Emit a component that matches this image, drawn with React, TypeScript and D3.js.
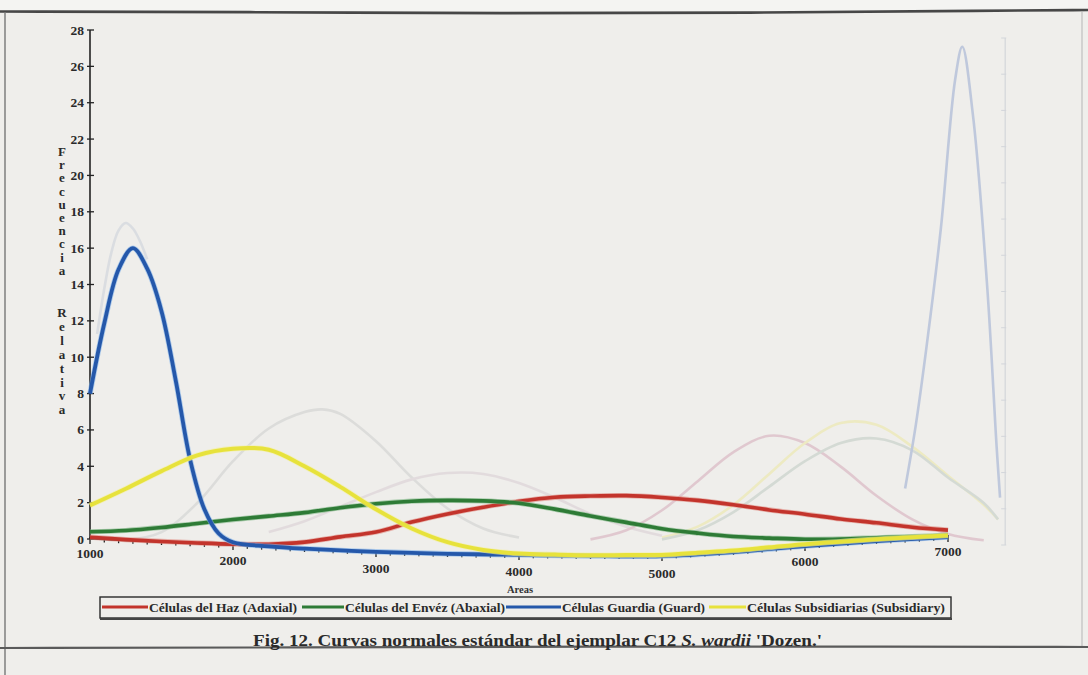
import React from "react";
import * as d3 from "d3";

// ---------- DATA ----------
const areas = [1000, 1250, 1500, 1750, 2000, 2250, 2500, 2750, 3000, 3250, 3500, 3750, 4000, 4250, 4500, 4750, 5000, 5250, 5500, 5750, 6000, 6250, 6500, 6750, 7000];
const haz = [0.1, 0.05, 0.03, 0.03, 0.05, 0.15, 0.38, 0.75, 1.1, 1.7, 2.2, 2.6, 2.95, 3.2, 3.3, 3.32, 3.22, 2.95, 2.6, 2.15, 1.75, 1.35, 1.0, 0.65, 0.38];
const enves = [0.4, 0.55, 0.8, 1.1, 1.4, 1.7, 2.0, 2.35, 2.65, 2.85, 2.95, 2.95, 2.85, 2.55, 2.2, 1.85, 1.5, 1.15, 0.85, 0.6, 0.37, 0.25, 0.18, 0.13, 0.11];
const subsid = [1.85, 2.85, 3.9, 4.85, 5.3, 5.35, 4.55, 3.5, 2.35, 1.35, 0.65, 0.25, 0.08, 0.05, 0.04, 0.05, 0.06, 0.07, 0.08, 0.09, 0.1, 0.1, 0.1, 0.1, 0.08];
const guardAreas = [1000, 1100, 1200, 1300, 1400, 1500, 1600, 1700, 1800, 1900, 2000, 2250, 2500, 3000, 3500, 4000, 4500, 5000, 5500, 6000, 6500, 7000];
const guardia = [8.0, 11.9, 14.9, 16.1, 15.0, 12.7, 8.9, 4.6, 1.9, 0.6, 0.15, 0.04, 0.02, 0.01, 0.01, 0.01, 0, 0, 0, 0, 0, 0];

const seriesNames = ["Células del Haz (Adaxial)", "Células del Envéz (Abaxial)", "Células Guardia (Guard)", "Células Subsidiarias (Subsidiary)"];
const seriesColors = ["#c3342c", "#2e7b36", "#2558aa", "#e7e23c"];

const yTickLabels = [0, 2, 4, 6, 8, 10, 12, 14, 16, 18, 20, 22, 24, 26, 28];
const xTickLabels = [1000, 2000, 3000, 4000, 5000, 6000, 7000];
const xTitle = "Areas";
const yTitleWords = ["Frecuencia", "Relativa"];
const captionStart = "Fig. 12. Curvas normales estándar del ejemplar C12 ";
const captionItalic = "S. wardii";
const captionEnd = "  'Dozen.'";

// faint show-through curves from the reverse side of the scanned page
const ghostGuardLAreas = [1050, 1100, 1150, 1200, 1250, 1300, 1350, 1400];
const ghostGuardL = [11.5, 14.0, 16.0, 17.2, 17.6, 17.3, 16.6, 15.6];
const ghostGreyAreas = [1250, 1500, 1750, 2000, 2250, 2500, 2625, 2750, 3000, 3250, 3500, 3750, 4000];
const ghostGrey = [0.15, 0.6, 2.2, 4.5, 6.3, 7.2, 7.35, 7.1, 5.6, 3.6, 1.9, 0.8, 0.3];
const ghostBroadAreas = [2250, 2500, 2750, 3000, 3250, 3500, 3750, 4000, 4250, 4500, 4750, 5000];
const ghostBroad = [0.6, 1.2, 2.0, 2.8, 3.5, 3.85, 3.8, 3.3, 2.5, 1.6, 0.9, 0.4];
const ghostPinkAreas = [4500, 4750, 5000, 5250, 5500, 5750, 6000, 6250, 6500, 6750, 7000, 7250];
const ghostPink = [0.2, 0.7, 1.8, 3.4, 5.0, 5.9, 5.5, 4.2, 2.6, 1.3, 0.5, 0.15];
const ghostRightAreas = [5000, 5250, 5500, 5750, 6000, 6250, 6500, 6750, 7000, 7250, 7350];
const ghostYellow = [0.3, 0.9, 2.1, 3.8, 5.5, 6.6, 6.5, 5.3, 3.7, 2.1, 1.3];
const ghostGreen = [0.2, 0.7, 1.7, 3.1, 4.5, 5.5, 5.75, 5.1, 3.6, 2.2, 1.3];
const ghostBlueAreas = [6700, 6775, 6850, 6950, 7050, 7100, 7175, 7275, 7340, 7364];
const ghostBlue = [3, 6.5, 10.8, 17.3, 25.5, 27.3, 23.5, 14, 5.3, 2.5];

// page bend of the scan (vertical displacement, px) along the x axis
const bendAreas = [1000, 1500, 2000, 2500, 3000, 3500, 4000, 4500, 5000, 5500, 6000, 6500, 7000];
const bendPx = [0, 3, 6, 10, 13, 15, 16, 17, 17, 13, 7, 2, -2];

// ---------- LAYOUT ----------
const W = 1088;
const H = 675;
const x = d3.scaleLinear().domain([1000, 7000]).range([90, 948]);
const y = d3.scaleLinear().domain([0, 28]).range([539, 30]);
const bend = d3.scaleLinear().domain(bendAreas).range(bendPx).clamp(true);
const serif = "'Liberation Serif', 'DejaVu Serif', serif";

const line = d3.line<[number, number]>().curve(d3.curveCatmullRom.alpha(0.5));
const axisLine = d3.line<[number, number]>().curve(d3.curveBasis);
const smooth = d3.line<[number, number]>().curve(d3.curveBasis);

function bentPath(as: number[], vs: number[]) {
  return line(as.map((a, i) => [x(a), y(vs[i]) + bend(a)] as [number, number])) || "";
}
function flatPath(as: number[], vs: number[]) {
  return line(as.map((a, i) => [x(a), y(vs[i]) + 4] as [number, number])) || "";
}

export default function App() {
  const axisAreas = d3.range(1000, 7001, 100);
  const axisPath = axisLine(axisAreas.map((a) => [x(a), y(0) + bend(a)] as [number, number])) || "";
  const ghostAxisX = x(7400);
  const gy = d3.scaleLinear().domain([0, 28]).range([545, 38]);

  const legendItems = [
    { x0: 102, x1: 148, tw: 148 },
    { x0: 302, x1: 344, tw: 160 },
    { x0: 506, x1: 561, tw: 143 },
    { x0: 709, x1: 746, tw: 198 },
  ];

  const main = [
    { as: areas, vs: haz, c: seriesColors[0], w: 3.6, halo: "#e08a80" },
    { as: areas, vs: enves, c: seriesColors[1], w: 3.6, halo: "#7fb786" },
    { as: guardAreas, vs: guardia, c: seriesColors[2], w: 3.8, halo: "#7fb0ea" },
    { as: areas, vs: subsid, c: seriesColors[3], w: 4, halo: "#f4f0a0" },
  ];

  const ghosts = [
    { as: ghostGuardLAreas, vs: ghostGuardL, c: "#d2d6dd" },
    { as: ghostGreyAreas, vs: ghostGrey, c: "#d4d5d4" },
    { as: ghostBroadAreas, vs: ghostBroad, c: "#ddd4d8" },
    { as: ghostPinkAreas, vs: ghostPink, c: "#dbb9c4" },
    { as: ghostRightAreas, vs: ghostYellow, c: "#ede9b2" },
    { as: ghostRightAreas, vs: ghostGreen, c: "#c9d2cb" },
    { as: ghostBlueAreas, vs: ghostBlue, c: "#abb9d6" },
  ];

  // stacked vertical title letters
  const titleLetters: { ch: string; yy: number }[] = [];
  yTitleWords[0].split("").forEach((ch, i) => titleLetters.push({ ch, yy: 156 + i * 13.2 }));
  yTitleWords[1].split("").forEach((ch, i) => titleLetters.push({ ch, yy: 317 + i * 13.9 }));

  return (
    <svg
      width={W}
      height={H}
      viewBox={`0 0 ${W} ${H}`}
      style={{ position: "absolute", left: 0, top: 0, display: "block" }}
      fontFamily={serif}
    >
      {/* page */}
      <rect x={0} y={0} width={W} height={H} fill="#efeeeb" />
      <rect x={0} y={0} width={W} height={11} fill="#f4f4f2" />
      <path d={smooth([[0, 11.5], [250, 12], [500, 13.5], [750, 13], [1000, 10.5], [1088, 10]]) || ""} fill="none" stroke="#474747" strokeWidth={2.6} />
      <line x1={5} y1={12} x2={5} y2={H} stroke="#777" strokeWidth={1.4} />
      <line x1={1082} y1={12} x2={1082} y2={648} stroke="#b5b5b5" strokeWidth={1} />
      <path d={smooth([[0, 648], [300, 647.5], [600, 646.5], [900, 646.5], [1088, 647]]) || ""} fill="none" stroke="#5a5a5a" strokeWidth={2.2} />

      {/* ghost (show-through) elements */}
      <g opacity={0.7}>
        <line x1={ghostAxisX} y1={gy(28)} x2={ghostAxisX} y2={gy(0)} stroke="#c8ccd4" strokeWidth={1.2} />
        {yTickLabels.map((t) => (
          <line key={"gt" + t} x1={ghostAxisX - 4} x2={ghostAxisX + 1} y1={gy(t)} y2={gy(t)} stroke="#c8ccd4" strokeWidth={1} />
        ))}
        {ghosts.map((g, i) => (
          <path key={"g" + i} d={flatPath(g.as, g.vs)} fill="none" stroke={g.c} strokeWidth={2.6} />
        ))}
      </g>

      {/* y axis */}
      <line x1={x(1000)} y1={y(28)} x2={x(1000)} y2={y(0)} stroke="#222" strokeWidth={1.6} />
      {yTickLabels.map((t) => (
        <g key={"yt" + t}>
          <line x1={x(1000) - 3} x2={x(1000) + 4} y1={y(t)} y2={y(t)} stroke="#222" strokeWidth={1.3} />
          <text x={x(1000) - 6} y={y(t) + 4.5} textAnchor="end" fontSize={13.5} fontWeight="bold" fill="#2a2a2a">
            {t}
          </text>
        </g>
      ))}
      {titleLetters.map((l, i) => (
        <text key={"tl" + i} x={62} y={l.yy} textAnchor="middle" fontSize={13} fontWeight="bold" fill="#2a2a2a">
          {l.ch}
        </text>
      ))}

      {/* x axis (follows the page bend) */}
      <path d={axisPath} fill="none" stroke="#222" strokeWidth={1.5} />
      {axisAreas.map((a) => {
        const major = a % 1000 === 0;
        const yy = y(0) + bend(a);
        return (
          <line key={"xt" + a} x1={x(a)} x2={x(a)} y1={major ? yy - 2 : yy} y2={major ? yy + 5 : yy + 3} stroke="#222" strokeWidth={1.3} />
        );
      })}
      {xTickLabels.map((t) => (
        <text key={"xl" + t} x={x(t)} y={y(0) + bend(t) * 1.15 + 19} textAnchor="middle" fontSize={13.5} fontWeight="bold" fill="#2a2a2a">
          {t}
        </text>
      ))}
      <text x={520} y={593} textAnchor="middle" fontSize={10.5} fontWeight="bold" fill="#333">
        {xTitle}
      </text>

      {/* series */}
      {main.map((s, i) => (
        <g key={"s" + i}>
          <path d={bentPath(s.as, s.vs)} fill="none" stroke={s.halo} strokeWidth={s.w + 1.6} strokeLinejoin="round" opacity={0.6} />
          <path d={bentPath(s.as, s.vs)} fill="none" stroke={s.c} strokeWidth={s.w} strokeLinejoin="round" />
        </g>
      ))}

      {/* legend */}
      <rect x={100} y={597} width={851} height={21} fill="#efeeeb" stroke="#2a2a2a" strokeWidth={1.4} />
      <line x1={100} x2={952} y1={619} y2={619} stroke="#444" strokeWidth={2} />
      {legendItems.map((it, i) => (
        <g key={"lg" + i}>
          <line x1={it.x0} x2={it.x1} y1={607} y2={607} stroke={seriesColors[i]} strokeWidth={3} />
          <text x={it.x1 + 1} y={611.5} fontSize={12.5} fontWeight="bold" fill="#2a2a2a" textLength={it.tw} lengthAdjust="spacingAndGlyphs">
            {seriesNames[i]}
          </text>
        </g>
      ))}

      {/* caption */}
      <text x={253} y={646} fontSize={16} fontWeight="bold" fill="#2a2a2a" textLength={569} lengthAdjust="spacingAndGlyphs">
        {captionStart}
        <tspan fontStyle="italic">{captionItalic}</tspan>
        {captionEnd}
      </text>
    </svg>
  );
}
